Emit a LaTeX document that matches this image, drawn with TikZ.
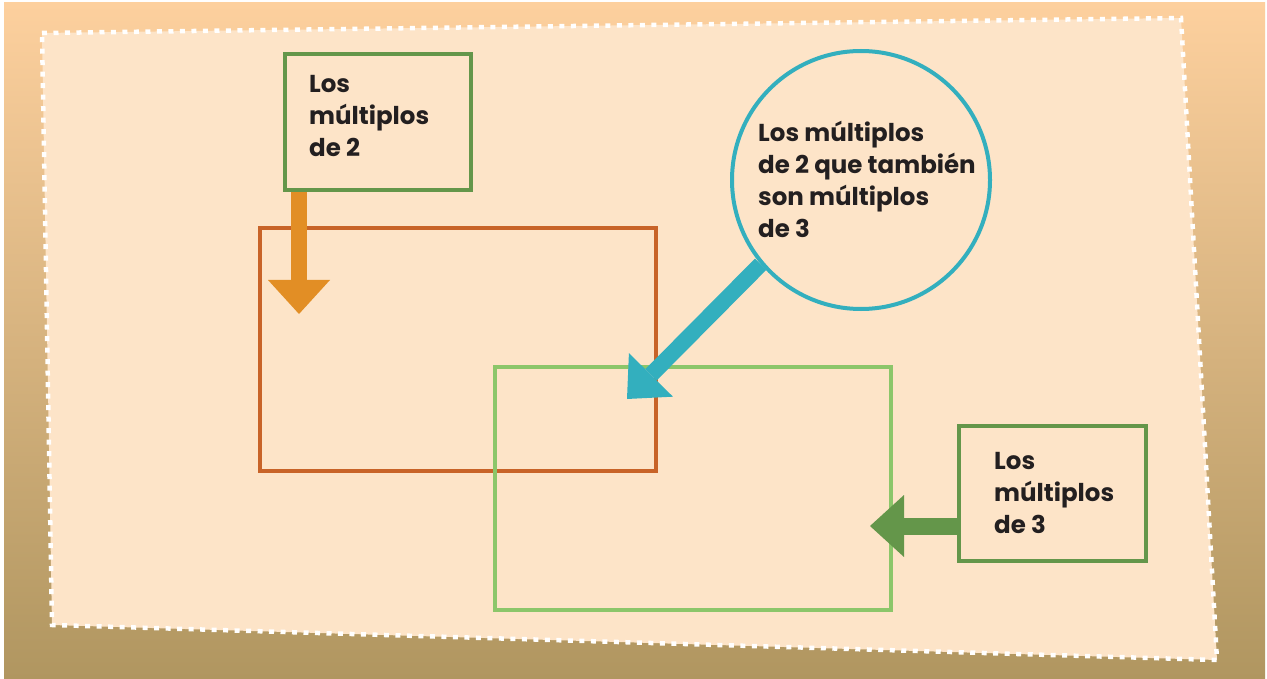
\documentclass[tikz,border=0pt]{standalone}
\usepackage{fontspec}
\setmainfont{Poppins}
\usetikzlibrary{arrows.meta,calc}
\definecolor{bgtop}{RGB}{253,208,158}
\definecolor{bgbot}{RGB}{176,150,96}
\definecolor{paper}{RGB}{253,228,200}
\definecolor{boxgreen}{RGB}{100,150,74}
\definecolor{setgreen}{RGB}{140,198,106}
\definecolor{setorange}{RGB}{200,99,40}
\definecolor{arroworange}{RGB}{226,142,37}
\definecolor{teal}{RGB}{51,175,190}
\definecolor{ink}{RGB}{35,31,32}
\begin{document}
\begin{tikzpicture}[x=1pt,y=-1pt,
  frame/.style={draw=boxgreen, line width=4pt, rectangle, inner sep=0pt},
  setbox/.style={line width=4pt, rectangle, inner sep=0pt,
    minimum width=396pt, minimum height=243pt},
  label/.style={anchor=north west, inner sep=0pt, align=left, text=ink,
    font=\fontsize{24.5}{32}\selectfont\bfseries},
  blockarrow/.style={line width=16pt,
    -{Triangle[length=34pt,width=62pt,line width=0pt]}}
]
\useasboundingbox (0,0) rectangle (1267,679);
\fill[white] (0,0) rectangle (1267,679);
\shade[top color=bgtop, bottom color=bgbot] (4,3) rectangle (1265,679);
\fill[paper] (42,33) -- (1181,18) -- (1217,660) -- (52,625) -- cycle;
\draw[white, line width=4.5pt, dash pattern=on 5pt off 6.5pt]
  (42,33) -- (1181,18) -- (1217,660) -- (52,625) -- cycle;

% sets
\node[setbox, draw=setorange] (set2) at (458,349.5) {};
\node[setbox, draw=setgreen] (set3) at (693,488.5) {};

% label boxes
\node[frame, minimum width=186pt, minimum height=136pt] (box2) at (378,122) {};
\node[label] (txt2) at (309,75) {Los\\múltiplos\\de 2};

\node[frame, minimum width=187pt, minimum height=135pt] (box3) at (1052.5,493.5) {};
\node[label] (txt3) at (994,452) {Los\\múltiplos\\de 3};

\node[circle, draw=teal, line width=4pt, minimum size=258pt, inner sep=0pt] (both) at (861,180) {};
\node[label] (txtboth) at (758,121) {Los múltiplos\\de 2 que también\\son múltiplos\\de 3};

% arrows
\coordinate (tip2) at (299,314);
\coordinate (tip3) at (870,526);
\coordinate (tipboth) at (627,399);
\draw[blockarrow, arroworange] (box2.south -| tip2) -- (tip2);
\draw[blockarrow, boxgreen, line width=17pt] (box3.west |- tip3) -- (tip3);
\draw[blockarrow, teal] (both.220) -- (tipboth);
\end{tikzpicture}
\end{document}
